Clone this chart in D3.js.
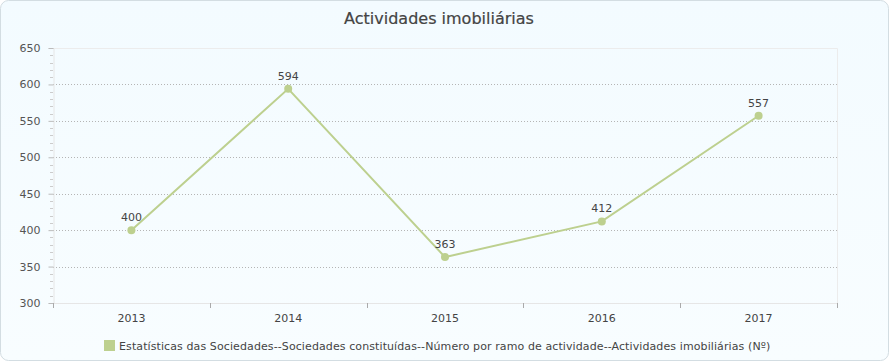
<!DOCTYPE html>
<html><head><meta charset="utf-8">
<script src="https://cdn.jsdelivr.net/npm/d3@7"></script>
<style>body{margin:0;background:#fff}svg{display:block;font-family:"DejaVu Sans",Verdana,sans-serif}</style>
</head><body><svg id="c" width="890" height="362"></svg>
<script>
const categories = ["2013","2014","2015","2016","2017"];
const values = [400, 594, 363, 412, 557];
const yTicks = [300,350,400,450,500,550,600,650];
const title = "Actividades imobiliárias";
const seriesName = "Estatísticas das Sociedades--Sociedades constituídas--Número por ramo de actividade--Actividades imobiliárias (Nº)";
const color = "#bdd08f";

const svg = d3.select("#c");
const defs = svg.append("defs");
const g = defs.append("linearGradient").attr("id","bg").attr("x1",0).attr("y1",0).attr("x2",0).attr("y2",1);
g.append("stop").attr("offset","0%").attr("stop-color","#f3fbff");
g.append("stop").attr("offset","100%").attr("stop-color","#f8fdff");
svg.append("rect").attr("x",0.5).attr("y",0.5).attr("width",888).attr("height",360).attr("rx",8)
  .attr("fill","url(#bg)").attr("stroke","#d3dde2");

const L=53,R=837,T=48,B=303;
const x = d3.scaleBand().domain(categories).range([L,R]);
const y = d3.scaleLinear().domain([300,650]).range([B,T]);

svg.append("text").attr("x",439).attr("y",24).attr("text-anchor","middle")
  .attr("font-size",16).attr("fill","#444").attr("stroke","#444").attr("stroke-width",0.2).text(title);

// plot border (top/right)
svg.append("path").attr("d",`M${L},${T+0.5}H${R+0.5}V${B}`).attr("fill","none").attr("stroke","#ececec");

// gridlines
svg.append("g").selectAll("line").data(yTicks.filter(v=>v>300&&v<650)).join("line")
  .attr("x1",L).attr("x2",R).attr("y1",d=>Math.round(y(d))+0.5).attr("y2",d=>Math.round(y(d))+0.5)
  .attr("stroke","#b5b5b5").attr("stroke-dasharray","1,2");

// y axis
const ya = svg.append("g").attr("transform",`translate(${L+0.5},0)`)
  .call(d3.axisLeft(y).tickValues(yTicks).tickSize(5).tickPadding(8).tickFormat(d3.format("d")));
ya.select(".domain").attr("stroke","#e6e6e6");
ya.selectAll(".tick line").attr("stroke","#bbb");
ya.selectAll(".tick text").attr("font-size",11).attr("fill","#555").attr("font-family","DejaVu Sans");
const minor = d3.range(300,650,10).filter(v=>v%50!==0);
svg.append("g").selectAll("line").data(minor).join("line")
  .attr("x1",L-3).attr("x2",L).attr("y1",d=>Math.round(y(d))+0.5).attr("y2",d=>Math.round(y(d))+0.5)
  .attr("stroke","#ccc");

// x axis
svg.append("line").attr("x1",L).attr("x2",R).attr("y1",B+0.5).attr("y2",B+0.5).attr("stroke","#e6e6e6");
const bounds = categories.map(c=>x(c)).concat([R]);
svg.append("g").selectAll("line").data(bounds).join("line")
  .attr("x1",d=>Math.round(d)+0.5).attr("x2",d=>Math.round(d)+0.5).attr("y1",B).attr("y2",B+5).attr("stroke","#aaa");
svg.append("g").selectAll("text").data(categories).join("text")
  .attr("x",d=>x(d)+x.bandwidth()/2).attr("y",B+19).attr("text-anchor","middle")
  .attr("font-size",11).attr("fill","#444").text(d=>d);

// line
const cx = d=>x(d)+x.bandwidth()/2;
const pts = categories.map((c,i)=>[cx(c), y(values[i])]);
svg.append("path").attr("d",d3.line()(pts)).attr("fill","none").attr("stroke",color).attr("stroke-width",2);
svg.append("g").selectAll("circle").data(pts).join("circle")
  .attr("cx",d=>d[0]).attr("cy",d=>d[1]).attr("r",4).attr("fill",color);
svg.append("g").selectAll("text").data(values).join("text")
  .attr("x",(d,i)=>pts[i][0]).attr("y",(d,i)=>pts[i][1]-9).attr("text-anchor","middle")
  .attr("font-size",11).attr("fill","#444").text(d=>d);

// legend
const lg = svg.append("g");
lg.append("text").attr("x",119).attr("y",350).attr("font-size",11).attr("letter-spacing",0.1).attr("fill","#444").text(seriesName);
lg.append("rect").attr("x",104).attr("y",340).attr("width",11).attr("height",11).attr("fill",color);
</script></body></html>
